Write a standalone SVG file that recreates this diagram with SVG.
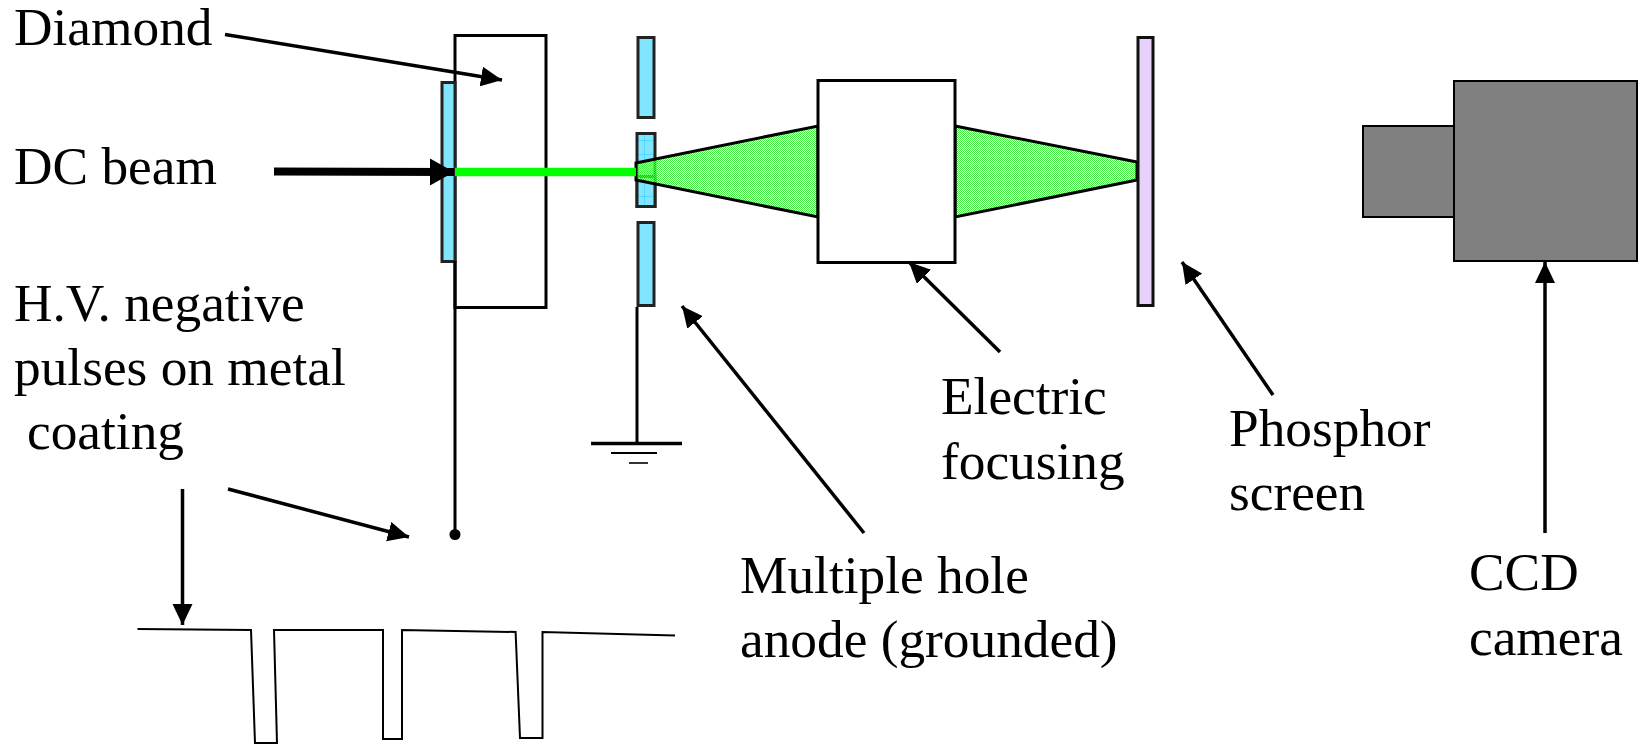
<svg xmlns="http://www.w3.org/2000/svg" width="1639" height="744" viewBox="0 0 1639 744">
<style>
text{font-family:"Liberation Serif","Times New Roman",serif;font-size:53.33px;fill:#000}
.box{fill:#fff;stroke:#000;stroke-width:3}
.blue{fill:#80e5ff;stroke:#222;stroke-width:3}
.line{fill:none;stroke:#000;stroke-width:3}
.arrow{fill:none;stroke:#000;stroke-width:3.500;marker-end:url(#head)}
</style>
<defs>
<marker id="head" markerUnits="userSpaceOnUse" markerWidth="22" markerHeight="21" refX="21" refY="10" orient="auto"><path d="M0,0L21,10L0,20z" fill="#000"/></marker>
<marker id="bighead" markerUnits="userSpaceOnUse" markerWidth="25" markerHeight="28" refX="24" refY="13.500" orient="auto"><path d="M0,0L24,13.500L0,27z" fill="#000"/></marker>
<pattern id="greenDots" width="2" height="2" patternUnits="userSpaceOnUse"><rect width="2" height="2" fill="#fff" fill-opacity=".4"/><rect width="1" height="1" fill="#44f044"/><rect x="1" y="1" width="1" height="1" fill="#44f044"/></pattern>
<pattern id="blueMesh" width="14" height="14" patternUnits="userSpaceOnUse"><rect width="14" height="14" fill="#80e5ff"/><path d="M0,0H14M0,0V14" stroke="#33ccff" stroke-width="1"/></pattern>
</defs>

<g id="diamond"><rect class="box" x="455" y="35.500" width="91" height="272"/></g>
<g id="coating"><rect class="blue" x="442" y="82.500" width="13" height="179"/></g>
<g id="anode">
<rect class="blue" x="638" y="37.500" width="16" height="80"/>
<rect x="637" y="133.500" width="18" height="73" fill="url(#blueMesh)" stroke="#222" stroke-width="3"/>
<rect x="637" y="176.500" width="18" height="30" fill="url(#blueMesh)" stroke="#222" stroke-width="3"/>
<rect class="blue" x="638" y="222.500" width="16" height="83"/>
</g>
<g id="beam-cone">
<path d="M636,163L818,126V217L636,180z" fill="url(#greenDots)" stroke="#000" stroke-width="3"/>
<path d="M955,126L1137,162V180L955,217z" fill="url(#greenDots)" stroke="#000" stroke-width="3"/>
</g>
<g id="focusing"><rect class="box" x="818" y="80.500" width="137" height="182" stroke="#222"/></g>
<g id="screen"><rect x="1138" y="37.500" width="15" height="268" fill="#e6d2fa" stroke="#111" stroke-width="3"/></g>
<g id="camera">
<rect x="1363" y="126" width="91" height="91" fill="#808080" stroke="#000" stroke-width="2"/>
<rect x="1454" y="81" width="183" height="180" fill="#808080" stroke="#000" stroke-width="2"/>
</g>
<g id="ground">
<path class="line" d="M637,307V443"/>
<path d="M591,443.500H682" stroke="#000" stroke-width="3.500"/>
<path d="M611,453H657" stroke="#000" stroke-width="2"/>
<path d="M629,463H648" stroke="#333" stroke-width="2"/>
</g>
<g id="pulses"><path d="M137.500,629L251,630L255,743H277L274,630H383V739H402V630L515.600,632L520,738H542.500V632L675,635.500" fill="none" stroke="#000" stroke-width="2"/></g>
<g id="beam-line"><path d="M455,172H636" stroke="#00ff00" stroke-width="8.500"/></g>

<g id="connectors">
<path class="line" d="M455,261V535"/>
<ellipse cx="455" cy="534.500" rx="5.500" ry="5.500" fill="#000"/>
<path class="arrow" d="M225,34.500L502,80"/>
<path d="M274,171.500L454,172" fill="none" stroke="#000" stroke-width="8" marker-end="url(#bighead)"/>
<path class="arrow" d="M864,533L682,306"/>
<path class="arrow" d="M1000,352L909,262"/>
<path class="arrow" d="M1273,395L1182,262"/>
<path class="arrow" d="M1545,533V262"/>
<path class="arrow" d="M182.500,489V625"/>
<path class="arrow" d="M228,489L409,537"/>
</g>

<g id="labels">
<text x="14" y="45">Diamond</text>
<text x="14" y="184">DC beam</text>
<text x="14" y="321">H.V. negative</text>
<text x="14" y="385">pulses on metal</text>
<text x="27" y="449">coating</text>
<text x="740" y="593">Multiple hole</text>
<text x="740" y="657">anode (grounded)</text>
<text x="941" y="414">Electric</text>
<text x="941" y="479">focusing</text>
<text x="1229" y="446">Phosphor</text>
<text x="1229" y="510">screen</text>
<text x="1469" y="590">CCD</text>
<text x="1469" y="655">camera</text>
</g>
</svg>
